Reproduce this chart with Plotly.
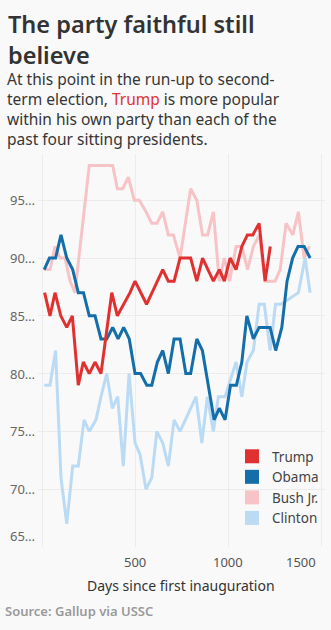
import plotly.graph_objects as go

# Gallup party approval, by days since first inauguration
trump_days = [14, 43, 70, 101, 133, 163, 195, 222, 254, 285, 317, 375, 405, 437, 473, 500,
              562, 649, 679, 710, 742, 770, 799, 832, 863, 892, 921, 953, 980, 1011, 1043,
              1074, 1104, 1133, 1167, 1199, 1227]
trump_vals = [87, 85, 87, 85, 84, 85, 79, 81, 80, 81, 80, 87, 85, 86, 87, 88,
              86, 89, 88, 88, 90, 90, 90, 88, 90, 89, 88, 89, 88, 90, 89,
              91, 92, 92, 93, 88, 91]

obama_days = [12, 40, 73, 102, 133, 165, 195, 223, 254, 285, 317, 348, 380, 409, 439, 469,
              500, 530, 563, 590, 620, 649, 679, 710, 742, 773, 799, 832, 862, 894, 925,
              953, 984, 1013, 1045, 1074, 1101, 1136, 1167, 1195, 1226, 1256, 1289, 1317,
              1347, 1376, 1409, 1441]
obama_vals = [89, 90, 90, 92, 90, 89, 87, 87, 85, 85, 83, 83, 84, 83, 84, 83,
              80, 80, 79, 79, 81, 82, 80, 83, 83, 80, 80, 83, 82, 79, 76,
              77, 76, 79, 79, 81, 85, 83, 84, 84, 84, 82, 84, 88,
              90, 91, 91, 90]

bush_days = [12, 43, 70, 97, 124, 151, 177, 254, 280, 306, 333, 360, 380, 405, 434, 464,
             496, 523, 559, 590, 618, 649, 679, 706, 742, 799, 832, 863, 890, 921, 953,
             980, 1008, 1043, 1074, 1105, 1136, 1168, 1199, 1226, 1253, 1280, 1312, 1348,
             1378, 1409, 1437]
bush_vals = [89, 89, 91, 90, 90, 88, 87, 98, 98, 98, 98, 98, 98, 96, 96, 97,
             95, 95, 94, 93, 93, 94, 92, 92, 90, 96, 95, 92, 92, 94, 88,
             90, 88, 91, 91, 89, 91, 92, 88, 88, 88, 89, 93, 92,
             94, 90, 91]

clinton_days = [12, 43, 73, 102, 133, 165, 195, 226, 254, 290, 317, 348, 378, 407, 437, 468,
                500, 527, 559, 590, 617, 649, 679, 710, 742, 772, 801, 828, 859, 889, 921,
                948, 984, 1043, 1074, 1102, 1136, 1167, 1195, 1226, 1255, 1285, 1378, 1414,
                1441]
clinton_vals = [79, 79, 82, 71, 67, 72, 72, 76, 75, 76, 78, 80, 77, 78, 72, 80,
                74, 73, 70, 71, 75, 74, 72, 76, 75, 76, 77, 78, 74, 78, 75,
                78, 78, 81, 78, 81, 82, 86, 86, 82, 86, 86, 87, 90,
                87]

x_ticks = [500, 1000, 1500]
x_grid = [0, 500, 1000, 1500]
y_ticks = [65, 70, 75, 80, 85, 90, 95]

FONT = "Noto Sans"
W, H = 331, 630
L, R, T, B = 38, 6, 154, 83
X_RANGE = [-21.5, 1521]
Y_RANGE = [65, 99]
BG = "#f9f9f9"


def px_x(px):
    return (px - L) / (W - L - R)


def px_y(py):
    return (H - B - py) / (H - T - B)


series = [
    ("Clinton", clinton_days, clinton_vals, "#badbf3"),
    ("Bush Jr.", bush_days, bush_vals, "#f7c3c6"),
    ("Obama", obama_days, obama_vals, "#136ea9"),
    ("Trump", trump_days, trump_vals, "#e03130"),
]

fig = go.Figure()
for name, d, v, c in series:
    fig.add_trace(go.Scatter(x=d, y=v, mode="lines", name=name,
                             line=dict(color=c, width=3),
                             showlegend=False, hoverinfo="skip"))
# square swatches for the legend
for name, _, _, c in reversed(series):
    fig.add_trace(go.Scatter(x=[None], y=[None], mode="markers", name=name,
                             marker=dict(symbol="square", size=14, color=c)))

ann = []


def text(x, y, s, size, color, xanchor="left", yanchor="middle", weight=None,
         xref="paper", yref="paper", xshift=0, yshift=0, borderpad=1):
    f = dict(family=FONT, size=size, color=color)
    if weight:
        f["weight"] = weight
    ann.append(dict(x=x, y=y, xref=xref, yref=yref, text=s, showarrow=False,
                    xanchor=xanchor, yanchor=yanchor, font=f, align="left",
                    xshift=xshift, yshift=yshift, borderpad=borderpad))


# headline and standfirst
text(px_x(6), px_y(40), "The party faithful still<br>believe", 23.5, "#333333", weight=600)
standfirst = (
    "At this point in the run-up to second-<br>"
    "term election, <span style='color:#e03130'>Trump</span> is more popular<br>"
    "within his own party than each of the<br>"
    "past four sitting presidents."
)
text(px_x(6), px_y(109), standfirst, 15.5, "#363636", borderpad=0)

# y tick labels
for v in y_ticks:
    text(0, v, f"{v}…", 13, "#666666", xanchor="right",
         yanchor="bottom" if v == y_ticks[0] else "middle",
         yref="y", xshift=-1)
# x tick labels
for v in x_ticks:
    text(v, px_y(562), str(v), 13, "#555555",
         xanchor="right" if v == x_ticks[-1] else "center",
         xref="x", xshift=(-3 if v == x_ticks[-1] else 0))

text(px_x(181), px_y(585), "Days since first inauguration", 14, "#333333", xanchor="center")
text(px_x(3), px_y(611), "Source: Gallup via USSC", 13, "#999999", weight=600)

fig.update_layout(
    width=W, height=H,
    margin=dict(l=L, r=R, t=T, b=B, pad=0),
    paper_bgcolor=BG, plot_bgcolor=BG,
    font=dict(family=FONT, color="#444444"),
    showlegend=True,
    legend=dict(x=px_x(232), y=px_y(441), xanchor="left", yanchor="top",
                bgcolor="rgba(0,0,0,0)", font=dict(family=FONT, size=13.5, color="#444444"),
                itemclick=False, itemdoubleclick=False),
    annotations=ann,
    xaxis=dict(range=X_RANGE, tickvals=x_grid, showticklabels=False, ticks="",
               showgrid=True, gridcolor="#ececec", gridwidth=1,
               zeroline=False, showline=False, fixedrange=True),
    yaxis=dict(range=Y_RANGE, tickvals=y_ticks, showticklabels=False, ticks="",
               showgrid=True, gridcolor="#ececec", gridwidth=1,
               zeroline=False, showline=False, fixedrange=True),
)

fig.write_html("out.html", config={"displayModeBar": False})
